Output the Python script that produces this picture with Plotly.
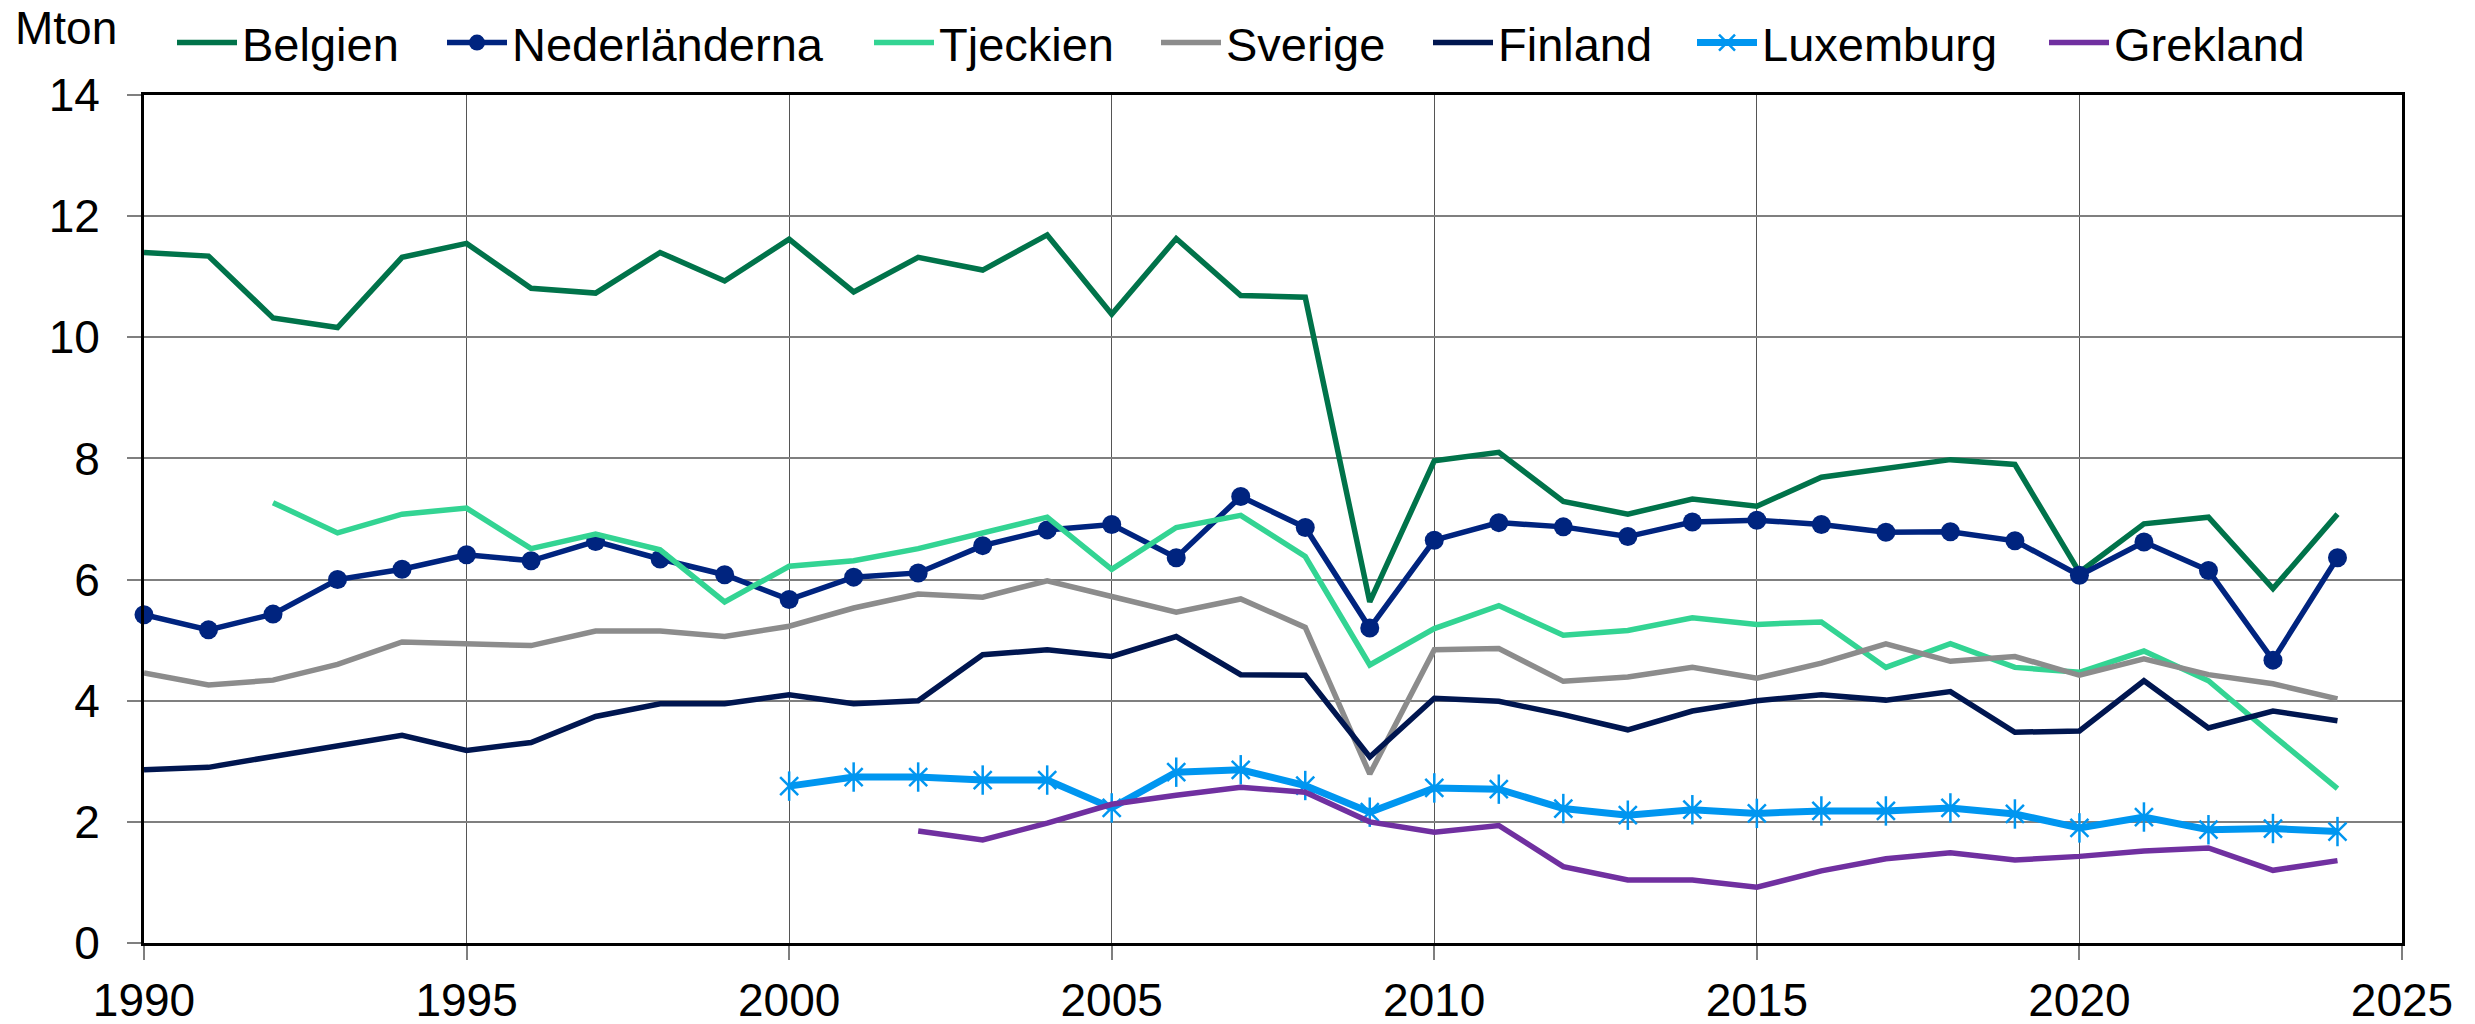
import plotly.graph_objects as go

years = list(range(1990, 2025))

belgien = [11.40, 11.34, 10.32, 10.16, 11.32, 11.55, 10.81, 10.73, 11.40, 10.93,
           11.62, 10.75, 11.32, 11.11, 11.69, 10.38, 11.63, 10.69, 10.66, 5.63,
           7.96, 8.10, 7.29, 7.08, 7.33, 7.21, 7.69, 7.84, 7.98, 7.90,
           6.12, 6.92, 7.03, 5.85, 7.08]
nederlanderna = [5.42, 5.17, 5.43, 6.00, 6.17, 6.41, 6.31, 6.63, 6.34, 6.08,
                 5.67, 6.04, 6.11, 6.56, 6.82, 6.91, 6.36, 7.37, 6.86, 5.20,
                 6.65, 6.94, 6.87, 6.71, 6.95, 6.98, 6.91, 6.78, 6.79, 6.64,
                 6.07, 6.62, 6.15, 4.67, 6.36]
tjeckien = [None, None, 7.27, 6.77, 7.08, 7.18, 6.51, 6.75, 6.49, 5.63,
            6.22, 6.31, 6.51, 6.78, 7.03, 6.17, 6.86, 7.06, 6.38, 4.59,
            5.19, 5.57, 5.08, 5.16, 5.37, 5.26, 5.30, 4.55, 4.94, 4.55,
            4.47, 4.82, 4.33, 3.43, 2.55]
sverige = [4.46, 4.26, 4.34, 4.60, 4.97, 4.95, 4.91, 5.15, 5.15, 5.06,
           5.23, 5.53, 5.76, 5.71, 5.98, 5.72, 5.46, 5.68, 5.21, 2.79,
           4.84, 4.86, 4.32, 4.39, 4.55, 4.37, 4.62, 4.94, 4.65, 4.73,
           4.42, 4.69, 4.43, 4.28, 4.03]
finland = [2.86, 2.90, 3.08, 3.26, 3.43, 3.18, 3.31, 3.74, 3.95, 3.95,
           4.10, 3.95, 4.00, 4.76, 4.84, 4.73, 5.06, 4.43, 4.42, 3.07,
           4.04, 3.99, 3.77, 3.52, 3.83, 4.00, 4.10, 4.01, 4.15, 3.48,
           3.50, 4.33, 3.55, 3.83, 3.67]
luxemburg = [None] * 10 + [2.59, 2.74, 2.74, 2.69, 2.69, 2.23, 2.82, 2.86, 2.60, 2.16,
                           2.56, 2.54, 2.22, 2.11, 2.20, 2.14, 2.18, 2.18, 2.23, 2.13,
                           1.90, 2.08, 1.87, 1.89, 1.84]
grekland = [None] * 12 + [1.85, 1.70, 1.98, 2.29, 2.44, 2.57, 2.49, 2.00,
                          1.83, 1.94, 1.26, 1.04, 1.04, 0.92, 1.19, 1.39, 1.49, 1.37,
                          1.43, 1.52, 1.57, 1.20, 1.36]

x_ticks = [1990, 1995, 2000, 2005, 2010, 2015, 2020, 2025]
y_ticks = [0, 2, 4, 6, 8, 10, 12, 14]

FONT = "Liberation Sans, Arial, sans-serif"
FS = 46
FS_LEG = 47

# layout geometry (pixels)
W, H = 2475, 1024
L, R, T, B = 144, 73, 95, 81
PW = W - L - R
PH = H - T - B

legend_names = ["legend", "legend2", "legend3", "legend4", "legend5", "legend6", "legend7"]
legend_sym_px = [180, 450, 877, 1164, 1436, 1700, 2052]

fig = go.Figure()

series = [
    ("Belgien", belgien, "#00734A", 5.5, None),
    ("Nederländerna", nederlanderna, "#00247F", 5.5,
     dict(symbol="circle", size=19, color="#00247F")),
    ("Tjeckien", tjeckien, "#33D493", 5.5, None),
    ("Sverige", sverige, "#8C8C8C", 5.5, None),
    ("Finland", finland, "#001650", 5.5, None),
    ("Luxemburg", luxemburg, "#0096F0", 7,
     dict(symbol="x-thin-open", size=18, color="#0096F0",
          line=dict(color="#0096F0", width=2.5))),
    ("Grekland", grekland, "#7030A0", 5.5, None),
]

for i, (name, y, color, width, marker) in enumerate(series):
    kw = dict(x=years, y=y, name=name, mode="lines",
              line=dict(color=color, width=width), cliponaxis=False,
              legend=legend_names[i])
    if marker:
        kw["mode"] = "lines+markers"
        kw["marker"] = marker
    fig.add_trace(go.Scatter(**kw))
    if name == "Luxemburg":
        fig.add_trace(go.Scatter(x=years, y=y, mode="markers", showlegend=False,
                                 cliponaxis=False, hoverinfo="skip",
                                 marker=dict(symbol="line-ns-open", size=21, color=color,
                                             line=dict(color=color, width=2.5))))

legend_y = 1 + (T - 43) / PH
layout_legends = {}
for ln, px in zip(legend_names, legend_sym_px):
    layout_legends[ln] = dict(
        orientation="h", x=(px - 8 - L) / PW, y=legend_y,
        xanchor="left", yanchor="middle",
        font=dict(family=FONT, size=FS_LEG, color="black"),
        itemwidth=60, bgcolor="rgba(0,0,0,0)", borderwidth=0)

fig.update_layout(
    width=W, height=H,
    margin=dict(l=L, r=R, t=T, b=B, autoexpand=False),
    paper_bgcolor="white", plot_bgcolor="white",
    font=dict(family=FONT, size=FS, color="black"),
    showlegend=True,
    xaxis=dict(range=[1990, 2025], tickvals=x_ticks, ticktext=[str(v) for v in x_ticks],
               showgrid=True, gridcolor="#555555", gridwidth=1.2,
               showline=True, linecolor="black", linewidth=3, mirror=True,
               ticks="outside", ticklen=14, tickcolor="#7f7f7f", tickwidth=1.5,
               ticklabelstandoff=1,
               tickfont=dict(family=FONT, size=FS, color="black"), zeroline=False),
    yaxis=dict(range=[0, 14], tickvals=y_ticks, ticktext=[str(v) for v in y_ticks],
               showgrid=True, gridcolor="#7f7f7f", gridwidth=2,
               showline=True, linecolor="black", linewidth=3, mirror=True,
               ticks="outside", ticklen=14, tickcolor="#7f7f7f", tickwidth=1.5,
               ticklabelstandoff=18,
               tickfont=dict(family=FONT, size=FS, color="black"), zeroline=False),
    annotations=[dict(text="Mton", xref="paper", yref="paper",
                      x=(13 - L) / PW, y=1 + (T - 28) / PH,
                      xanchor="left", yanchor="middle",
                      showarrow=False, font=dict(family=FONT, size=FS, color="black"))],
    **layout_legends,
)

fig.write_html(
    "out.html",
    config={"displayModeBar": False},
    post_script="document.body.style.margin='0';document.body.style.padding='0';"
                "document.body.style.overflow='hidden';",
)
